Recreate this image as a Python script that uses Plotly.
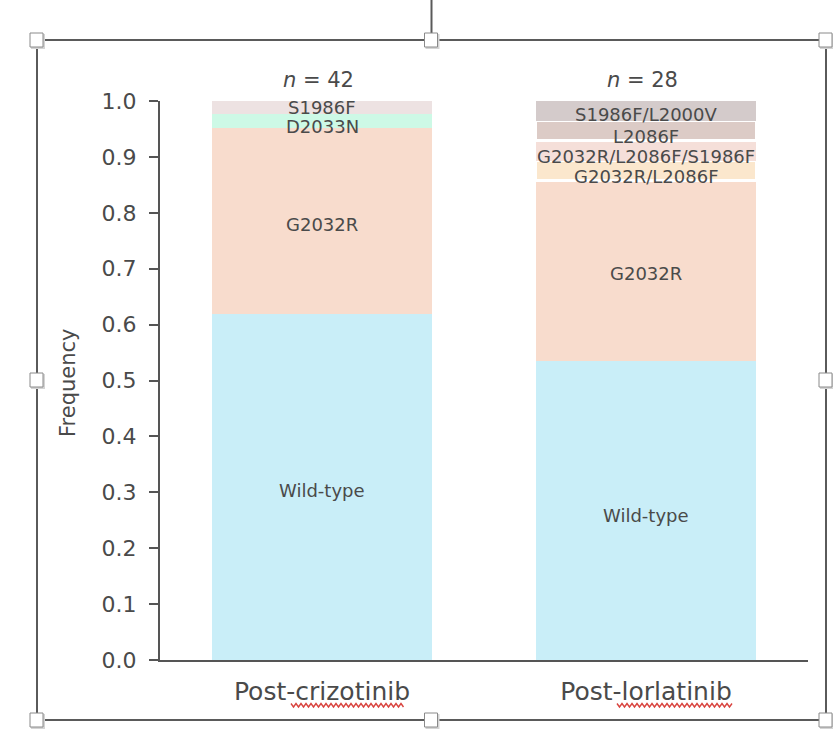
import plotly.graph_objects as go

# Resistance mutation counts per treatment group
groups = ["Post-crizotinib", "Post-lorlatinib"]
n_patients = [42, 28]
mutations = [
    "Wild-type", "G2032R", "D2033N", "S1986F",
    "G2032R/L2086F", "G2032R/L2086F/S1986F", "L2086F", "S1986F/L2000V",
]
counts_crizotinib = [26, 14, 1, 1, 0, 0, 0, 0]
counts_lorlatinib = [15, 9, 0, 0, 1, 1, 1, 1]

colors = ["#c9eef8", "#f8dccd", "#cdf9e6", "#ede2e2",
          "#fbe7cd", "#f5dfd9", "#dccbc6", "#d4cbcb"]
# white separators between the small lorlatinib segments
sep_width = [[0, 0], [0, 0], [0, 0], [0, 0], [0, 3], [0, 0], [0, 3], [0, 0]]
# downward nudges for segment labels (pixels)
label_down = [[4, 5], [4, 3], [6, 0], [0, 0], [0, 6], [0, 6], [0, 6], [0, 4]]

W, H = 833, 731
ML, MR, MT, MB = 160, 25, 101, 71
PW, PH = W - ML - MR, H - MT - MB


def px(x):
    return (x - ML) / PW


def py(y):
    return (H - MB - y) / PH


FONT = "DejaVu Sans"
TXT = "#4a4a4a"

fig = go.Figure()
freqs = []
for i, m in enumerate(mutations):
    vals = [counts_crizotinib[i] / n_patients[0], counts_lorlatinib[i] / n_patients[1]]
    freqs.append(vals)
    fig.add_trace(go.Bar(
        x=groups, y=vals, name=m, width=0.68,
        marker=dict(color=colors[i], line=dict(color="white", width=sep_width[i])),
        showlegend=False, hoverinfo="name+y",
    ))

# segment labels at the middle of each segment
annotations = []
for g in range(2):
    base = 0.0
    for i, m in enumerate(mutations):
        v = freqs[i][g]
        if v > 0:
            annotations.append(dict(
                x=groups[g], y=base + v / 2, xref="x", yref="y", text=m,
                showarrow=False, font=dict(family=FONT, size=18, color=TXT),
                yshift=-label_down[i][g],
            ))
        base += v
    annotations.append(dict(
        x=groups[g], y=1.0, xref="x", yref="y", yanchor="bottom",
        text=f"<i>n</i> = {n_patients[g]}", showarrow=False, yshift=7, xshift=-4,
        font=dict(family=FONT, size=21, color=TXT),
    ))

annotations.append(dict(
    x=px(68), y=py(383), xref="paper", yref="paper", text="Frequency",
    xanchor="center", yanchor="middle",
    textangle=-90, showarrow=False, font=dict(family=FONT, size=21, color=TXT),
))

# selection frame with handles around the chart object
shapes = []
fx0, fx1, fy0, fy1 = 37, 826, 40, 720
fxm, fym = (fx0 + fx1) / 2, (fy0 + fy1) / 2
frame_line = dict(color="#5a5a5a", width=2)
shapes.append(dict(type="rect", xref="paper", yref="paper",
                   x0=px(fx0), x1=px(fx1), y0=py(fy1), y1=py(fy0), line=frame_line))
shapes.append(dict(type="line", xref="paper", yref="paper",
                   x0=px(fxm), x1=px(fxm), y0=py(0), y1=py(fy0), line=frame_line))
for hx, hy in [(fx0, fy0), (fxm, fy0), (fx1, fy0), (fx0, fym), (fx1, fym),
               (fx0, fy1), (fxm, fy1), (fx1, fy1)]:
    shapes.append(dict(type="rect", xref="paper", yref="paper",
                       x0=px(hx - 6), x1=px(hx + 8), y0=py(hy + 9), y1=py(hy - 6),
                       fillcolor="#d4d4d4", line=dict(width=0)))
    shapes.append(dict(type="rect", xref="paper", yref="paper",
                       x0=px(hx - 7), x1=px(hx + 6), y0=py(hy + 7), y1=py(hy - 7),
                       fillcolor="white", line=dict(color="#8a8a8a", width=1)))

# spell-check squiggles under the group labels
for sx0, sx1 in [(291, 405), (617, 733)]:
    pts = []
    x, up = sx0, True
    while x <= sx1:
        pts.append((px(x), py(703.5 if up else 707)))
        x += 2.5
        up = not up
    path = "M " + " L ".join(f"{a:.5f},{b:.5f}" for a, b in pts)
    shapes.append(dict(type="path", xref="paper", yref="paper", path=path,
                       line=dict(color="#d9443f", width=1.4)))

fig.update_layout(
    width=W, height=H, barmode="stack",
    margin=dict(l=ML, r=MR, t=MT, b=MB),
    paper_bgcolor="white", plot_bgcolor="white",
    font=dict(family=FONT, color=TXT),
    annotations=annotations, shapes=shapes,
    xaxis=dict(
        range=[-0.5, 1.5], showgrid=False, zeroline=False,
        showline=True, linecolor="#555555", linewidth=2,
        ticks="", tickfont=dict(family=FONT, size=25, color=TXT),
        ticklabelstandoff=8,
    ),
    yaxis=dict(
        range=[0, 1.0], tickvals=[i / 10 for i in range(11)],
        ticktext=[f"{i / 10:.1f}" for i in range(11)],
        showgrid=False, zeroline=False, showline=True,
        linecolor="#555555", linewidth=2,
        ticks="outside", ticklen=9, tickwidth=2, tickcolor="#555555",
        tickfont=dict(family=FONT, size=22, color=TXT), ticklabelstandoff=8,
    ),
)

fig.write_html("out.html")
